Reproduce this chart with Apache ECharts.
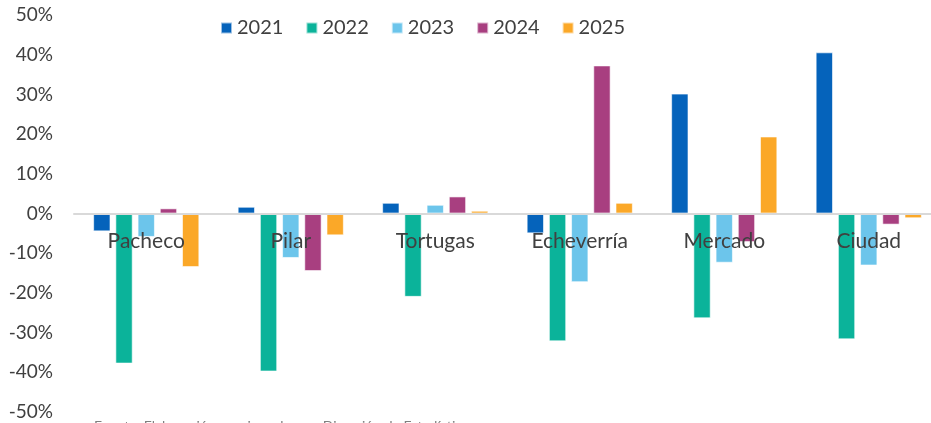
<!DOCTYPE html>
<html>
<head>
<meta charset="utf-8">
<script src="https://cdn.jsdelivr.net/npm/echarts@6/dist/echarts.min.js"></script>
<style>
  html, body { margin: 0; padding: 0; background: #fff; }
  #chart { width: 931px; height: 423px; }
</style>
</head>
<body>
<div id="chart"></div>
<script>
// Categories and yearly change per district (%)
const categories = ['Pacheco', 'Pilar', 'Tortugas', 'Echeverría', 'Mercado', 'Ciudad']
const years = ['2021', '2022', '2023', '2024', '2025']
const v2021 = [-4.5, 1.7, 2.7, -5.0, 30.2, 40.6]
const v2022 = [-37.8, -39.8, -21.0, -32.2, -26.4, -31.7]
const v2023 = [-5.9, -11.2, 2.2, -17.3, -12.4, -13.1]
const v2024 = [1.3, -14.5, 4.3, 37.3, -7.2, -2.8]
const v2025 = [-13.5, -5.5, 0.7, 2.7, 19.4, -1.2]
const yTicks = [-50, -40, -30, -20, -10, 0, 10, 20, 30, 40, 50]

const colors = ['#0563bb', '#0bb39a', '#6cc5eb', '#a83f80', '#fba828']
const values = [v2021, v2022, v2023, v2024, v2025]
const font = 'Lato, "Open Sans", sans-serif'

const gridTop = 15
const gridBottom = 11
const plotHeight = 423 - gridTop - gridBottom

const chart = echarts.init(document.getElementById('chart'))

chart.setOption({
  animation: false,
  textStyle: { fontFamily: font },
  color: colors,
  // plot area runs a little past the right edge (the source image is cropped)
  grid: { left: 74, right: -10, top: gridTop, bottom: gridBottom, containLabel: false, outerBoundsMode: 'none' },
  legend: {
    left: 215,
    top: 13,
    itemWidth: 11,
    itemHeight: 11,
    itemGap: 22,
    icon: 'rect',
    textStyle: { fontSize: 20, color: '#404040', fontFamily: font },
    data: years
  },
  // category axis sits on the 0% line, labels hang below it (Excel style)
  xAxis: {
    type: 'category',
    data: categories,
    position: 'top',
    offset: -plotHeight / 2,
    z: 10,
    axisLine: { onZero: false, lineStyle: { color: '#d9d9d9', width: 2 } },
    axisTick: { show: false },
    axisLabel: { inside: true, fontSize: 21, color: '#404040', margin: 17, fontFamily: font }
  },
  yAxis: {
    type: 'value',
    min: yTicks[0],
    max: yTicks[yTicks.length - 1],
    interval: 10,
    splitLine: { show: false },
    axisLine: { show: false },
    axisTick: { show: false },
    axisLabel: {
      fontSize: 19,
      color: '#404040',
      margin: 21,
      fontFamily: font,
      formatter: v => v + '%'
    }
  },
  series: years.map((y, i) => ({
    name: y,
    type: 'bar',
    data: values[i],
    barGap: '28%',
    barCategoryGap: '26.5%',
    itemStyle: { borderColor: 'rgba(255,255,255,0.6)', borderWidth: 1 }
  })),
  graphic: [{
    type: 'text',
    left: 94,
    top: 419,
    style: {
      text: 'Fuente: Elaboración propia en base a Dirección de Estadística',
      fontSize: 14,
      fill: '#7f7f7f',
      fontFamily: font
    }
  }]
})
</script>
</body>
</html>
